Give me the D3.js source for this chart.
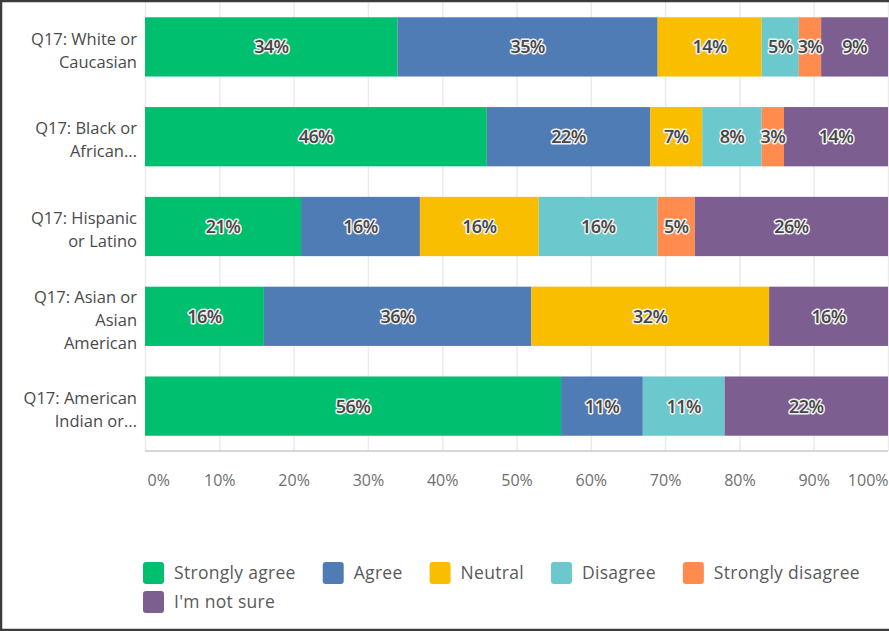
<!DOCTYPE html>
<html>
<head>
<meta charset="utf-8">
<script src="https://cdn.jsdelivr.net/npm/d3@7"></script>
<style>
  html, body { margin: 0; padding: 0; background: #fff; }
  svg { display: block; font-family: "Open Sans", sans-serif; }
</style>
</head>
<body>
<div id="chart"></div>
<script>
// rows, top to bottom (label lines)
var categories = [
  ["Q17: White or", "Caucasian"],
  ["Q17: Black or", "African..."],
  ["Q17: Hispanic", "or Latino"],
  ["Q17: Asian or", "Asian", "American"],
  ["Q17: American", "Indian or..."]
];
var answers = ["Strongly agree", "Agree", "Neutral", "Disagree", "Strongly disagree", "I'm not sure"];
var colors = ["#00bf6f", "#507cb6", "#f9be00", "#6bc8cd", "#ff8b4f", "#7d5e90"];

var stronglyAgree    = [34, 46, 21, 16, 56];
var agree            = [35, 22, 16, 36, 11];
var neutral          = [14,  7, 16, 32,  0];
var disagree         = [ 5,  8, 16,  0, 11];
var stronglyDisagree = [ 3,  3,  5,  0,  0];
var notSure          = [ 9, 14, 26, 16, 22];

var xTicks = [0, 10, 20, 30, 40, 50, 60, 70, 80, 90, 100];

var series = [stronglyAgree, agree, neutral, disagree, stronglyDisagree, notSure];

var W = 889, H = 631;
var mLeft = 145, mRight = 888, mTop = 2, mBottom = 451;

var svg = d3.select("#chart").append("svg")
    .attr("width", W)
    .attr("height", H);

var x = d3.scaleLinear().domain([0, 100]).range([mLeft, mRight]);
var y = d3.scaleBand().domain(d3.range(categories.length)).range([mTop, mBottom]).paddingInner(0.34).paddingOuter(0.17);

// grid lines
var grid = svg.append("g")
    .attr("transform", "translate(0," + mBottom + ")")
    .call(d3.axisBottom(x).tickValues(xTicks).tickSize(-(mBottom - mTop)).tickFormat(""));
grid.select(".domain").remove();
grid.selectAll("line").attr("stroke", "#ebebeb").attr("stroke-width", 1.5);

// stacked rows
var rows = categories.map(function(c, i) {
  var x0 = 0;
  return series.map(function(s, k) {
    var seg = {row: i, k: k, v: s[i], x0: x0, x1: x0 + s[i]};
    x0 += s[i];
    return seg;
  }).filter(function(d) { return d.v > 0; });
});
var segs = d3.merge(rows);

svg.append("g").selectAll("rect")
  .data(segs)
  .enter().append("rect")
  .attr("x", function(d) { return x(d.x0); })
  .attr("width", function(d) { return x(d.x1) - x(d.x0); })
  .attr("y", function(d) { return y(d.row); })
  .attr("height", y.bandwidth())
  .attr("fill", function(d) { return colors[d.k]; });

svg.append("g").selectAll("text")
  .data(segs)
  .enter().append("text")
  .attr("x", function(d) { return (x(d.x0) + x(d.x1)) / 2; })
  .attr("y", function(d) { return y(d.row) + y.bandwidth() / 2; })
  .attr("dy", "0.36em")
  .attr("text-anchor", "middle")
  .style("font-size", "18px")
  .style("font-weight", 600)
  .style("letter-spacing", "-0.6px")
  .attr("fill", "#464646")
  .attr("stroke", "#f2f2f2")
  .attr("stroke-width", 3)
  .attr("stroke-linejoin", "round")
  .style("paint-order", "stroke")
  .text(function(d) { return d.v + "%"; });

// bottom axis line
svg.append("line")
  .attr("x1", mLeft).attr("x2", mRight)
  .attr("y1", mBottom).attr("y2", mBottom)
  .attr("stroke", "#d6d6d6").attr("stroke-width", 2);

// x tick labels
var xAxis = svg.append("g")
    .attr("transform", "translate(0," + mBottom + ")")
    .call(d3.axisBottom(x).tickValues(xTicks).tickSize(0).tickPadding(24).tickFormat(function(d) { return d + "%"; }));
xAxis.select(".domain").remove();
xAxis.selectAll("text")
  .style("font-family", "'Open Sans', sans-serif")
  .style("font-size", "16px")
  .attr("fill", "#6e6e6e")
  .attr("text-anchor", function(d) { return d === 0 ? "start" : d === 100 ? "end" : "middle"; })
  .attr("dx", function(d) { return d === 0 ? 2 : 0; });

// y labels
var yl = svg.append("g").selectAll("text")
  .data(categories)
  .enter().append("text")
  .attr("text-anchor", "end")
  .style("font-size", "16.5px")
  .attr("fill", "#4a4a4a")
  .attr("transform", function(d, i) {
    var cy = y(i) + y.bandwidth() / 2 + 4 - (d.length - 1) * 11.5;
    return "translate(137," + cy + ")";
  });
yl.selectAll("tspan")
  .data(function(d) { return d; })
  .enter().append("tspan")
  .attr("x", 0)
  .attr("y", function(d, j) { return j * 23; })
  .attr("dy", "0.32em")
  .text(function(d) { return d; });

// legend
var lg = svg.append("g");
var lx = 143, ly = 573, maxX = 880;
answers.forEach(function(a, k) {
  var item = lg.append("g");
  item.append("rect")
    .attr("width", 21).attr("height", 22)
    .attr("y", -11).attr("rx", 3)
    .attr("fill", colors[k]);
  var t = item.append("text")
    .attr("x", 31).attr("dy", "0.35em")
    .style("font-size", "17.5px")
    .style("letter-spacing", "0.3px")
    .attr("fill", "#5a5a5a")
    .text(a);
  var w = 31 + t.node().getComputedTextLength();
  if (lx + w > maxX) { lx = 143; ly += 29; }
  item.attr("transform", "translate(" + lx + "," + ly + ")");
  lx += w + 27;
});

// frame
svg.append("path")
  .attr("d", "M" + W + ",1H1V" + (H - 1) + "H" + W)
  .attr("fill", "none")
  .attr("stroke", "#3c3c3c")
  .attr("stroke-width", 2.5);
</script>
</body>
</html>
